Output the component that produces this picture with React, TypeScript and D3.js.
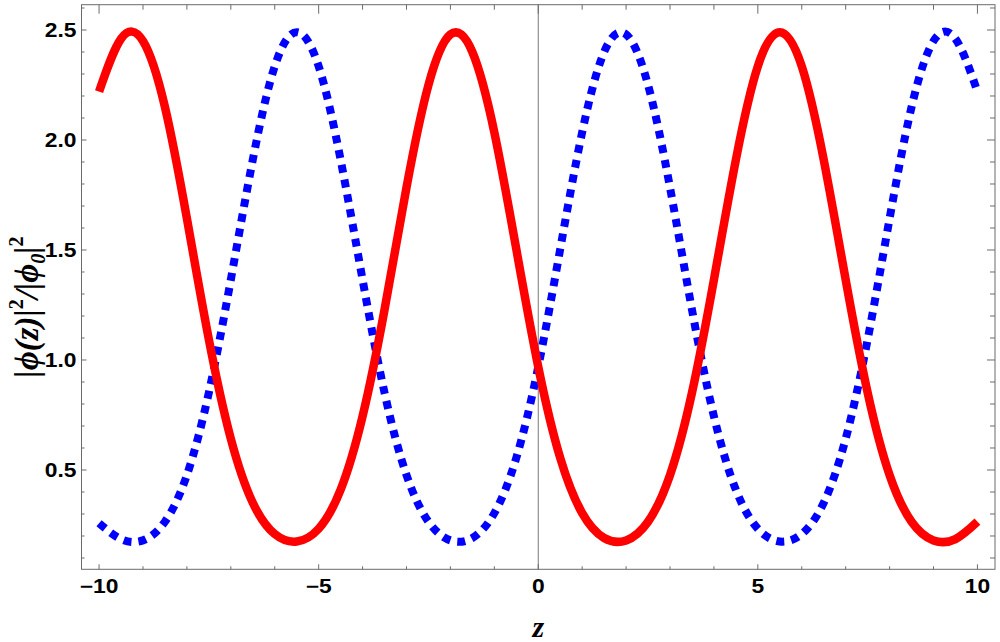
import * as d3 from 'd3';

// z grid and the two intensity curves
const zValues = [
  -10, -9.5, -9, -8.5, -8, -7.5, -7, -6.5, -6, -5.5, -5, -4.5, -4, -3.5, -3, -2.5, -2, -1.5, -1, -0.5,
  0, 0.5, 1, 1.5, 2, 2.5, 3, 3.5, 4, 4.5, 5, 5.5, 6, 6.5, 7, 7.5, 8, 8.5, 9, 9.5, 10,
];
const redValues = [
  2.22, 2.46, 2.45, 2.15, 1.643, 1.093, 0.642, 0.351, 0.209, 0.175, 0.233, 0.41, 0.744, 1.229,
  1.784, 2.25, 2.48, 2.4, 2.035, 1.504, 0.969, 0.555, 0.304, 0.191, 0.18, 0.265, 0.477, 0.851,
  1.365, 1.91, 2.335, 2.49, 2.335, 1.91, 1.365, 0.852, 0.477, 0.265, 0.18, 0.186, 0.265,
];
const blueValues = [
  0.258, 0.186, 0.18, 0.265, 0.477, 0.852, 1.365, 1.91, 2.335, 2.49, 2.335, 1.91, 1.365, 0.851,
  0.477, 0.265, 0.18, 0.191, 0.304, 0.555, 0.969, 1.504, 2.035, 2.4, 2.48, 2.25, 1.784, 1.229,
  0.744, 0.41, 0.233, 0.175, 0.209, 0.351, 0.642, 1.093, 1.643, 2.15, 2.45, 2.46, 2.22,
];
const xTicks = [-10, -5, 0, 5, 10];
const yTicks = [0.5, 1.0, 1.5, 2.0, 2.5];

const width = 1000;
const height = 642;
const left = 81.5;
const right = 995;
const top = 4.7;
const bottom = 569.3;

const frameColor = '#6b6b6b';
const tickFont = 'Liberation Sans, Arial, sans-serif';
const serif = 'Liberation Serif, DejaVu Serif, serif';

export default function App() {
  const x = d3.scaleLinear([-10.4, 10.4], [left, right]);
  const y = d3.scaleLinear([0.0486, 2.615], [bottom, top]);

  const line = d3
    .line<number>()
    .x((d, i) => x(zValues[i]))
    .y((d) => y(d))
    .curve(d3.curveNatural);

  const xMinor = x.ticks(20);
  const yMinor = y.ticks(25);
  const fmtY = d3.format('.1f');
  const fmtX = d3.format('d');

  return (
    <svg
      width={width}
      height={height}
      style={{ position: 'absolute', left: 0, top: 0, background: '#fff' }}
    >
      <rect x={0} y={0} width={width} height={height} fill="#fff" />

      {/* axis through z = 0 */}
      <line x1={x(0)} x2={x(0)} y1={top} y2={bottom} stroke="#7a7a7a" strokeWidth={1} />

      <path
        d={line(blueValues) ?? ''}
        fill="none"
        stroke="#0000ff"
        strokeWidth={8}
        strokeDasharray="8 7"
      />
      <path
        d={line(redValues) ?? ''}
        fill="none"
        stroke="#ff0000"
        strokeWidth={8.5}
        strokeLinejoin="round"
      />

      {/* frame */}
      <rect
        x={left}
        y={top}
        width={right - left}
        height={bottom - top}
        fill="none"
        stroke={frameColor}
        strokeWidth={1}
      />

      <g stroke={frameColor} strokeWidth={1}>
        {xMinor.map((t) => {
          const major = xTicks.includes(t);
          return (
            <g key={'x' + t}>
              <line x1={x(t)} x2={x(t)} y1={bottom} y2={bottom - (major ? 5 : 3)} />
              <line x1={x(t)} x2={x(t)} y1={top} y2={top + (major ? 9 : 5)} />
            </g>
          );
        })}
        {yMinor.map((t) => {
          const major = yTicks.some((v) => Math.abs(v - t) < 1e-6);
          return (
            <g key={'y' + t}>
              <line x1={left} x2={left + (major ? 5 : 3)} y1={y(t)} y2={y(t)} />
              <line x1={right} x2={right - (major ? 8 : 5)} y1={y(t)} y2={y(t)} />
            </g>
          );
        })}
      </g>

      {/* tick labels */}
      <g fontFamily={tickFont} fontWeight="bold" fontSize={19.5} fill="#000">
        {xTicks.map((t) => (
          <g key={t} transform={`translate(${x(t)},${bottom + 24}) scale(1.17,1)`}>
            <text textAnchor="middle">{fmtX(t)}</text>
          </g>
        ))}
        {yTicks.map((t) => (
          <g key={t} transform={`translate(76.5,${y(t) + 7}) scale(1.17,1)`}>
            <text textAnchor="end">{fmtY(t)}</text>
          </g>
        ))}
      </g>

      {/* axis labels */}
      <text
        x={x(0)}
        y={637}
        textAnchor="middle"
        fontFamily={serif}
        fontStyle="italic"
        fontWeight="bold"
        fontSize={30}
      >
        z
      </text>
      <text
        transform="translate(38,307) rotate(-90)"
        textAnchor="middle"
        fontFamily={serif}
        fontStyle="italic"
        fontWeight="bold"
        fontSize={33}
      >
        |ϕ(z)|<tspan fontSize={20} fontStyle="normal" dy={-15}>2</tspan>
        <tspan dy={15}>/|ϕ</tspan>
        <tspan fontSize={20} dy={7}>0</tspan>
        <tspan dy={-7}>|</tspan>
        <tspan fontSize={20} fontStyle="normal" dy={-15}>2</tspan>
      </text>
    </svg>
  );
}
